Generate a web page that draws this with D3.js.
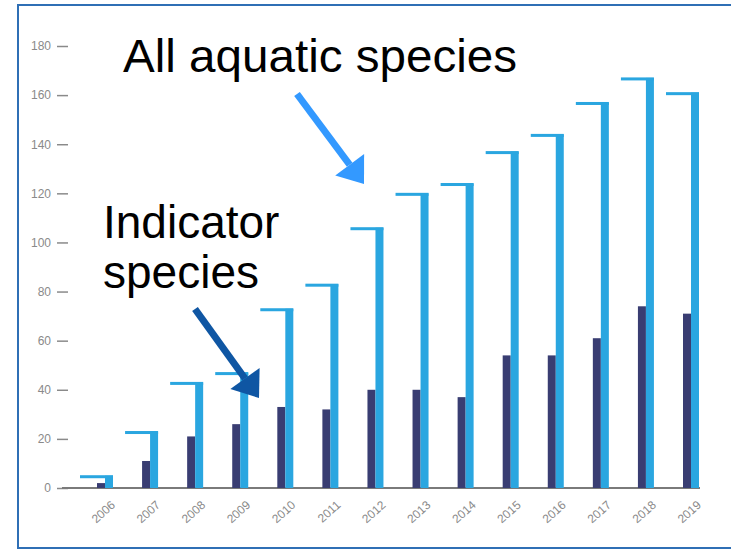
<!DOCTYPE html>
<html>
<head>
<meta charset="utf-8">
<script src="https://cdn.jsdelivr.net/npm/d3@7"></script>
<style>
    body { margin: 0; background: #fff; }
    svg { display: block; }
    .tick-label { font-family: "Liberation Sans", Arial, sans-serif; font-size: 12px; fill: #8a8a8a; }
    .callout { font-family: "Liberation Sans", Arial, sans-serif; font-size: 46px; fill: #000; }
</style>
</head>
<body>
<div id="chart"></div>
<script>
const years = ["2006", "2007", "2008", "2009", "2010", "2011", "2012",
               "2013", "2014", "2015", "2016", "2017", "2018", "2019"];
const allSpecies = [5, 23, 43, 47, 73, 83, 106, 120, 124, 137, 144, 157, 167, 161];
const indicatorSpecies = [2, 11, 21, 26, 33, 32, 40, 40, 37, 54, 54, 61, 74, 71];
const yTicks = [0, 20, 40, 60, 80, 100, 120, 140, 160, 180];

const W = 731, H = 549;
const BAR_W = 8;
const CAP_LEFT = 25;   // cap reaches this far left of the group centre
const LABEL_ANGLE = -42;

const svg = d3.select("#chart")
    .append("svg")
    .attr("width", W)
    .attr("height", H);

// frame of the picture
svg.append("path")
    .attr("d", `M${W + 5},5 H18 V548 H${W + 5}`)
    .attr("fill", "none")
    .attr("stroke", "#2f6fb5")
    .attr("stroke-width", 2);

const x = d3.scalePoint().domain(years).range([105, 691]);
const y = d3.scaleLinear().domain([0, 180]).range([488, 46]);

// y axis: labels and short dashes, no axis line
const yAxis = svg.append("g").attr("transform", "translate(57,0)")
    .call(d3.axisLeft(y).tickValues(yTicks).tickSize(0).tickPadding(6));
yAxis.select(".domain").remove();
yAxis.selectAll("text").attr("class", "tick-label").attr("font-family", null).attr("font-size", null);
yAxis.selectAll(".tick").append("line")
    .attr("x1", 0).attr("x2", 11)
    .attr("stroke", "#8a8a8a").attr("stroke-width", 1.5);

// baseline
svg.append("line")
    .attr("x1", 62).attr("x2", 700)
    .attr("y1", y(0)).attr("y2", y(0))
    .attr("stroke", "#7a7a7a").attr("stroke-width", 2);

const groups = svg.selectAll("g.year")
    .data(years)
    .join("g")
    .attr("class", "year")
    .attr("transform", (d) => `translate(${x(d)},0)`);

groups.append("rect")
    .attr("x", -BAR_W)
    .attr("width", BAR_W)
    .attr("y", (_d, i) => y(indicatorSpecies[i]))
    .attr("height", (_d, i) => y(0) - y(indicatorSpecies[i]))
    .attr("fill", "#393d72");

groups.append("rect")
    .attr("x", 0)
    .attr("width", BAR_W)
    .attr("y", (_d, i) => y(allSpecies[i]))
    .attr("height", (_d, i) => y(0) - y(allSpecies[i]))
    .attr("fill", "#2aa6e0");

groups.append("rect")
    .attr("x", -CAP_LEFT)
    .attr("width", CAP_LEFT + BAR_W)
    .attr("y", (_d, i) => y(allSpecies[i]) - 0.5)
    .attr("height", 3)
    .attr("fill", "#2aa6e0");

// rotated year labels (matrix form of translate + rotate)
const rad = LABEL_ANGLE * Math.PI / 180;
const c = Math.cos(rad), s = Math.sin(rad);
groups.append("text")
    .attr("class", "tick-label")
    .attr("text-anchor", "end")
    .attr("transform", `matrix(${c},${s},${-s},${c},11,506)`)
    .text((d) => d);

// callouts
svg.append("text").attr("class", "callout")
    .attr("x", 123).attr("y", 72)
    .attr("textLength", 394).attr("lengthAdjust", "spacingAndGlyphs")
    .text("All aquatic species");
svg.append("text").attr("class", "callout")
    .attr("x", 103).attr("y", 238)
    .text("Indicator");
svg.append("text").attr("class", "callout")
    .attr("x", 103).attr("y", 288)
    .text("species");

function arrow(x1, y1, x2, y2, color) {
    const a = Math.atan2(y2 - y1, x2 - x1);
    const headLen = 24, headHalf = 18;
    const bx = x2 - headLen * Math.cos(a), by = y2 - headLen * Math.sin(a);
    svg.append("line")
        .attr("x1", x1).attr("y1", y1).attr("x2", bx).attr("y2", by)
        .attr("stroke", color).attr("stroke-width", 7);
    const px = -Math.sin(a) * headHalf, py = Math.cos(a) * headHalf;
    svg.append("path")
        .attr("d", `M${x2},${y2} L${bx + px},${by + py} L${bx - px},${by - py} Z`)
        .attr("fill", color);
}

arrow(297, 94, 364, 184, "#3399ff");
arrow(195, 309, 259, 398, "#0f56a3");
</script>
</body>
</html>
